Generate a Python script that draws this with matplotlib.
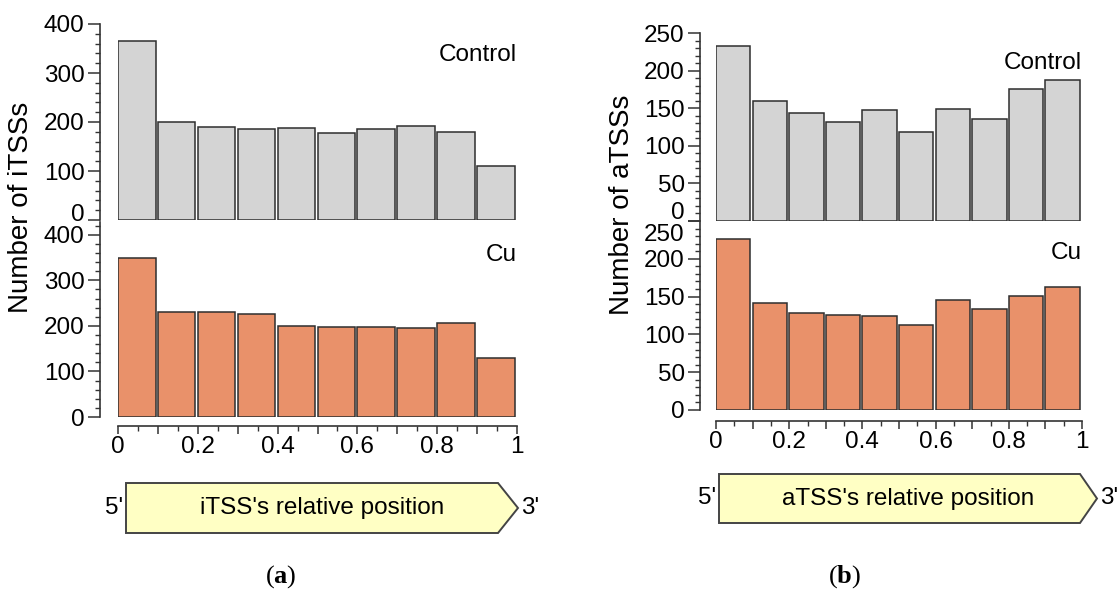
import numpy as np
import matplotlib
matplotlib.use("Agg")
import matplotlib.pyplot as plt
from matplotlib.patches import Polygon
from matplotlib.ticker import FixedLocator, MultipleLocator

plt.rcParams['font.family'] = ['Liberation Sans', 'DejaVu Sans']
plt.rcParams['mathtext.fontset'] = 'custom'
plt.rcParams['mathtext.rm'] = 'Liberation Serif'
plt.rcParams['mathtext.bf'] = 'Liberation Serif:bold'

# ── data ─────────────────────────────────────────────────────────────────────
bin_left = [0.0, 0.1, 0.2, 0.3, 0.4, 0.5, 0.6, 0.7, 0.8, 0.9]
itss_control = [366, 201, 190, 186, 188, 178, 186, 192, 180, 111]
itss_cu = [350, 231, 231, 226, 199, 198, 197, 196, 206, 129]
atss_control = [233, 159, 143, 132, 147, 119, 149, 136, 176, 188]
atss_cu = [226, 141, 128, 126, 124, 112, 145, 134, 151, 163]

xtick_pos = [0.0, 0.1, 0.2, 0.3, 0.4, 0.5, 0.6, 0.7, 0.8, 0.9, 1.0]
xtick_labels = ['0', '', '0.2', '', '0.4', '', '0.6', '', '0.8', '', '1']

GREY = '#d4d4d4'
ORANGE = '#e9916a'
EDGE = '#2e2e2e'
SPINE = '#333333'
BOX = '#ffffc4'
FS_TICK = 17.5
FS_TEXT = 17.5
TICK_LEN = 9

W, H = 1117, 597
fig = plt.figure(figsize=(W / 100, H / 100), dpi=100)


def px_rect(x0, y_top, x1, y_bot):
    """pixel box (top-left origin) -> figure fraction rect"""
    return [x0 / W, 1 - y_bot / H, (x1 - x0) / W, (y_bot - y_top) / H]


def draw_panel(rect, values, color, ylim, major, minor, label, label_y,
               left_off, bottom_off=None):
    ax = fig.add_axes(rect)
    ax.bar(bin_left, values, width=0.094, align='edge', color=color,
           edgecolor=EDGE, linewidth=1.1)
    ax.set_xlim(0, 1)
    ax.set_ylim(*ylim)
    for s in ('top', 'right'):
        ax.spines[s].set_visible(False)
    ax.spines['left'].set_position(('outward', left_off))
    ax.spines['left'].set_color(SPINE)
    ax.spines['left'].set_linewidth(1.2)
    ax.yaxis.set_major_locator(MultipleLocator(major))
    ax.yaxis.set_minor_locator(MultipleLocator(minor))
    ax.tick_params(axis='y', which='major', length=TICK_LEN, width=1.1,
                   color=SPINE, labelsize=FS_TICK, pad=2)
    ax.tick_params(axis='y', which='minor', length=3.8, width=1.0,
                   color=SPINE)
    if bottom_off is None:
        ax.spines['bottom'].set_visible(False)
        ax.set_xticks([])
    else:
        sp = ax.spines['bottom']
        sp.set_position(('outward', bottom_off))
        sp.set_bounds(0, 1)
        sp.set_color(SPINE)
        sp.set_linewidth(1.2)
        ax.xaxis.set_major_locator(FixedLocator(xtick_pos))
        ax.set_xticklabels(xtick_labels)
        ax.xaxis.set_minor_locator(MultipleLocator(0.05))
        ax.tick_params(axis='x', which='major', length=5.5, width=1.1,
                       color=SPINE, labelsize=FS_TICK, pad=2)
        ax.tick_params(axis='x', which='minor', length=3.5, width=1.0,
                       color=SPINE)
    ax.text(1.0, label_y, label, transform=ax.transAxes, ha='right',
            va='center', fontsize=FS_TEXT)
    return ax


def shifted_label(ax, text, y, left_off, dy):
    """tick label drawn by hand, nudged vertically (pt) to avoid a clash"""
    ax.annotate(text, xy=(0, y), xycoords=('axes fraction', 'data'),
                xytext=(-left_off - TICK_LEN - 2, dy), textcoords='offset points',
                ha='right', va='center', fontsize=FS_TICK)


# panel (a)
ax = draw_panel(px_rect(118, 24, 517, 220), itss_control, GREY, (0, 400),
                100, 20, 'Control', 0.84, 13)
ax.set_yticks([0, 100, 200, 300, 400])
ax.set_yticklabels(['', '100', '200', '300', '400'])
shifted_label(ax, '0', 0, 13, 3.5)
ax = draw_panel(px_rect(118, 222, 517, 417), itss_cu, ORANGE, (0, 428),
                100, 20, 'Cu', 0.83, 13, bottom_off=6.5)
ax.set_yticks([0, 100, 200, 300, 400])
ax.set_yticklabels(['0', '100', '200', '300', ''])
shifted_label(ax, '400', 400, 13, -1.5)

# panel (b)
ax = draw_panel(px_rect(716, 33, 1082, 221), atss_control, GREY, (0, 250),
                50, 10, 'Control', 0.84, 11.5)
ax.set_yticks([0, 50, 100, 150, 200, 250])
ax.set_yticklabels(['', '50', '100', '150', '200', '250'])
shifted_label(ax, '0', 0, 11.5, 5.5)
ax = draw_panel(px_rect(716, 221, 1082, 410), atss_cu, ORANGE, (0, 250),
                50, 10, 'Cu', 0.83, 11.5, bottom_off=7.9)
ax.set_yticks([0, 50, 100, 150, 200, 250])
ax.set_yticklabels(['0', '50', '100', '150', '200', ''])
shifted_label(ax, '250', 250, 11.5, -10)

# y labels
fig.text(21 / W, 1 - 207 / H, 'Number of iTSSs', rotation=90,
         ha='center', va='center', fontsize=20)
fig.text(622 / W, 1 - 205 / H, 'Number of aTSSs', rotation=90,
         ha='center', va='center', fontsize=20)


# arrow-shaped position boxes
def arrow_box(x0, x_body, x_tip, y_top, y_bot, text):
    ym = (y_top + y_bot) / 2
    pts = [(x0, y_top), (x_body, y_top), (x_tip, ym), (x_body, y_bot), (x0, y_bot)]
    pts = [(x / W, 1 - y / H) for x, y in pts]
    fig.add_artist(Polygon(pts, closed=True, transform=fig.transFigure,
                           facecolor=BOX, edgecolor='#444444', linewidth=1.4))
    fig.text((x0 + x_tip) / 2 / W, 1 - ym / H, text, ha='center',
             va='center', fontsize=FS_TEXT)
    fig.text((x0 - 3) / W, 1 - ym / H, "5'", ha='right', va='center',
             fontsize=FS_TEXT)
    fig.text((x_tip + 3) / W, 1 - ym / H, "3'", ha='left', va='center',
             fontsize=FS_TEXT)


arrow_box(126, 498, 518, 483, 533, "iTSS's relative position")
arrow_box(719, 1080, 1097, 474, 523, "aTSS's relative position")

fig.text(281 / W, 1 - 577 / H, r'($\mathbf{a}$)', ha='center', va='center',
         fontsize=19, family='Liberation Serif')
fig.text(845 / W, 1 - 577 / H, r'($\mathbf{b}$)', ha='center', va='center',
         fontsize=19, family='Liberation Serif')

fig.savefig('out.png', dpi=100)
